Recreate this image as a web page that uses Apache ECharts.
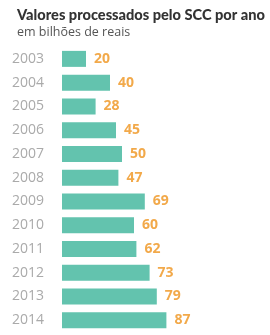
<!DOCTYPE html>
<html lang="pt">
<head>
    <meta charset="UTF-8">
    <title>Valores processados pelo SCC</title>
    <style>
        html, body { margin: 0; padding: 0; background: #fff; }
        #chart { width: 270px; height: 335px; }
    </style>
</head>
<body>
    <div id="chart"></div>
    <script src="https://cdn.jsdelivr.net/npm/echarts@6/dist/echarts.min.js"></script>
    <script>
        // anos e valores (bilhões de reais)
        const years = ['2003', '2004', '2005', '2006', '2007', '2008', '2009', '2010', '2011', '2012', '2013', '2014']
        const values = [20, 40, 28, 45, 50, 47, 69, 60, 62, 73, 79, 87]

        const font = '"Open Sans", "Noto Sans", sans-serif'
        const chart = echarts.init(document.getElementById('chart'))

        chart.setOption({
            animation: false,
            title: {
                text: 'Valores processados pelo SCC por ano',
                subtext: 'em bilhões de reais',
                left: 12,
                top: 3,
                itemGap: 3,
                textStyle: { fontFamily: 'Lato, sans-serif', fontSize: 14.6, fontWeight: 900, color: '#333' },
                subtextStyle: { fontFamily: font, fontSize: 12.5, color: '#555' }
            },
            grid: { left: 62, right: 88, top: 47, bottom: 3 },
            xAxis: {
                type: 'value',
                min: 0,
                max: 100,
                show: false
            },
            yAxis: {
                type: 'category',
                data: years,
                inverse: true,
                axisLine: { show: false },
                axisTick: { show: false },
                axisLabel: { margin: 18, fontFamily: font, fontSize: 14, color: '#aaa' }
            },
            series: [{
                type: 'bar',
                data: values,
                barWidth: 16,
                itemStyle: { color: '#63c3ae' },
                label: {
                    show: true,
                    position: 'right',
                    distance: 8,
                    fontFamily: font,
                    fontSize: 14,
                    fontWeight: 'bold',
                    color: '#f2a94a'
                }
            }]
        })
    </script>
</body>
</html>
